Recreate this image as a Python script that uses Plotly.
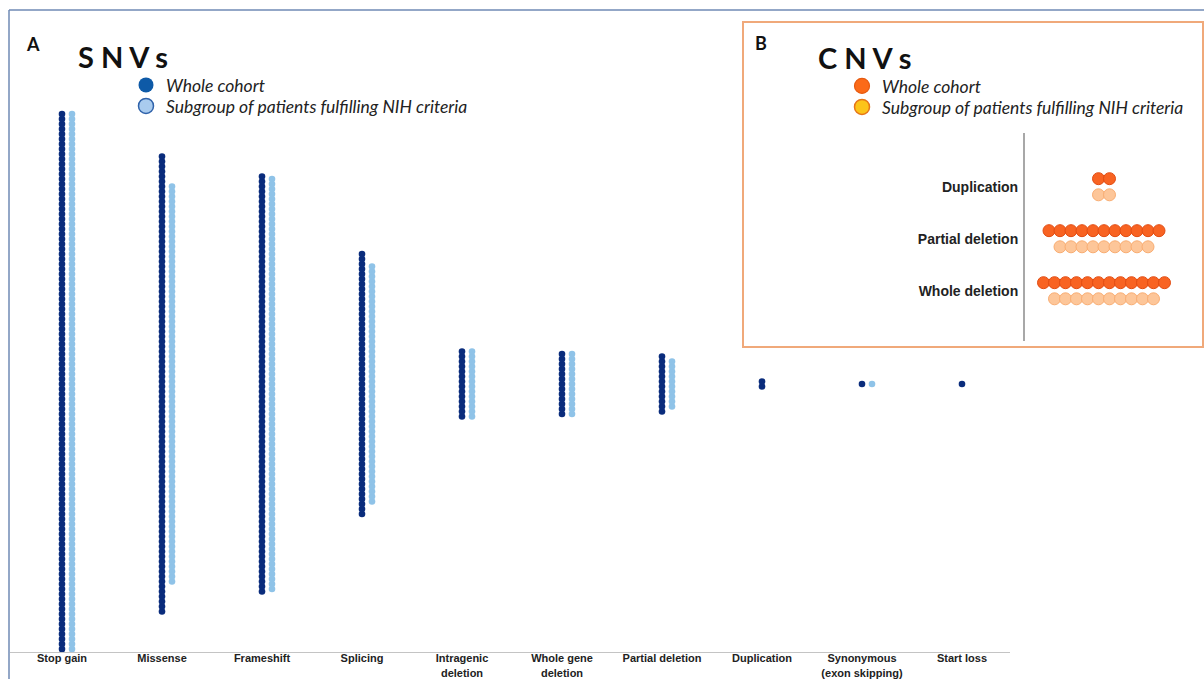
import plotly.graph_objects as go

W, H = 1204, 679

# ---------------- data ----------------
snv_categories = ["Stop gain", "Missense", "Frameshift", "Splicing", "Intragenic<br>deletion",
                  "Whole gene<br>deletion", "Partial deletion", "Duplication",
                  "Synonymous<br>(exon skipping)", "Start loss"]
snv_whole = [109, 92, 84, 53, 14, 13, 12, 2, 1, 1]
snv_nih = [109, 80, 83, 48, 14, 13, 10, 0, 1, 0]

cnv_categories = ["Duplication", "Partial deletion", "Whole deletion"]
cnv_whole = [2, 11, 12]
cnv_nih = [2, 9, 10]

series_names = ["Whole cohort", "Subgroup of patients fulfilling NIH criteria"]


def px(p):
    return p / W


def py(p):
    return 1 - p / H


# ------------- build dot coordinates (centered stacks) -------------
def vertical_stack(counts, offset):
    xs, ys = [], []
    for i, n in enumerate(counts):
        for k in range(n):
            xs.append(i + offset)
            ys.append(k - (n - 1) / 2)
    return xs, ys


def horizontal_stack(counts, offset):
    xs, ys = [], []
    for i, n in enumerate(counts):
        for k in range(n):
            xs.append(k - (n - 1) / 2)
            ys.append(i + offset)
    return xs, ys


fig = go.Figure()

NAVY = "#0a2c7c"
LIGHTBLUE = "#8fc3e8"

xw, yw = vertical_stack(snv_whole, 0.0)
xn, yn = vertical_stack(snv_nih, 0.1)
fig.add_trace(go.Scatter(x=xw, y=yw, mode="markers", xaxis="x", yaxis="y",
                         marker=dict(size=6.6, color=NAVY, line=dict(width=0)),
                         showlegend=False, name=series_names[0]))
fig.add_trace(go.Scatter(x=xn, y=yn, mode="markers", xaxis="x", yaxis="y",
                         marker=dict(size=6.6, color=LIGHTBLUE, line=dict(width=0)),
                         showlegend=False, name=series_names[1]))

# legend entries SNV (one legend per entry for exact placement)
fig.add_trace(go.Scatter(x=[None], y=[None], mode="markers", name=series_names[0],
                         marker=dict(size=15, color="#0e5aa7", line=dict(width=0)),
                         legend="legend"))
fig.add_trace(go.Scatter(x=[None], y=[None], mode="markers", name=series_names[1],
                         marker=dict(size=15, color="#a9cbee", line=dict(width=1.5, color="#2f62aa")),
                         legend="legend3"))

# CNV dots
cxw, cyw = horizontal_stack(cnv_whole, -0.16)
cxn, cyn = horizontal_stack(cnv_nih, 0.15)
fig.add_trace(go.Scatter(x=cxw, y=cyw, mode="markers", xaxis="x2", yaxis="y2",
                         marker=dict(size=12, color="#f86322", line=dict(width=1, color="#e24c12")),
                         showlegend=False, name=series_names[0]))
fig.add_trace(go.Scatter(x=cxn, y=cyn, mode="markers", xaxis="x2", yaxis="y2",
                         marker=dict(size=12, color="#fdc699", line=dict(width=1, color="#f9ad72")),
                         showlegend=False, name=series_names[1]))

fig.add_trace(go.Scatter(x=[None], y=[None], mode="markers", name=series_names[0],
                         marker=dict(size=15, color="#fb6a18", line=dict(width=1.2, color="#e65a10")),
                         legend="legend2", xaxis="x2", yaxis="y2"))
fig.add_trace(go.Scatter(x=[None], y=[None], mode="markers", name=series_names[1],
                         marker=dict(size=15, color="#fcc419", line=dict(width=1.5, color="#e67518")),
                         legend="legend4", xaxis="x2", yaxis="y2"))

# ---------------- axes ----------------
LABEL_FONT = dict(family="Liberation Sans, Arial", size=11, color="#222")

center_px = 384
unit = 5.0
fig.update_layout(
    xaxis=dict(domain=[px(10), px(1010)], range=[-0.52, 9.48],
               tickvals=list(range(len(snv_categories))),
               ticktext=["<b>%s</b>" % c for c in snv_categories],
               tickfont=LABEL_FONT, ticks="", showgrid=False, zeroline=False,
               showline=True, linecolor="#c4c4c4", linewidth=1, tickangle=0,
               ticklabelstandoff=-4, automargin=False, fixedrange=True),
    yaxis=dict(domain=[py(652), py(10)],
               range=[-(652 - center_px) / unit, (center_px - 10) / unit],
               visible=False, showgrid=False, zeroline=False, automargin=False,
               fixedrange=True),
)

# CNV panel axes
cnv_unit_x = 11.0
cnv_center = 1104
x2_left, x2_right = 1025, 1195
row_px = 52.0
y2_top, y2_bot = 133, 341
first_row_px = 187
fig.update_layout(
    xaxis2=dict(domain=[px(x2_left), px(x2_right)], anchor="y2",
                range=[-(cnv_center - x2_left) / cnv_unit_x, (x2_right - cnv_center) / cnv_unit_x],
                visible=False, showgrid=False, zeroline=False, automargin=False,
                fixedrange=True),
    yaxis2=dict(domain=[py(y2_bot), py(y2_top)], anchor="x2",
                range=[(y2_bot - first_row_px) / row_px, -(first_row_px - y2_top) / row_px],
                tickvals=list(range(len(cnv_categories))),
                ticktext=["<b>%s</b>" % c for c in cnv_categories],
                tickfont=dict(family="Liberation Sans, Arial", size=14, color="#222"),
                ticks="", showgrid=False, zeroline=False,
                showline=True, linecolor="#a8a8a8", linewidth=2,
                ticklabelstandoff=2, automargin=False, fixedrange=True),
)

# ---------------- legends ----------------
LEG_FONT = dict(family="Lato, Open Sans, sans-serif", size=17.5, color="#222", style="italic")


def leg(xp, yp):
    return dict(x=px(xp), y=py(yp), xanchor="left", yanchor="top",
                font=LEG_FONT, bgcolor="rgba(0,0,0,0)", tracegroupgap=0,
                itemclick=False, itemdoubleclick=False)


fig.update_layout(
    legend=leg(126, 67),
    legend3=leg(126, 88),
    legend2=leg(842, 68),
    legend4=leg(842, 89),
)

# ---------------- frames and titles ----------------
shapes = [
    dict(type="line", xref="paper", yref="paper", x0=px(9), x1=px(9), y0=py(10), y1=py(679),
         line=dict(color="#6f8ab5", width=1.5)),
    dict(type="line", xref="paper", yref="paper", x0=px(9), x1=px(1204), y0=py(10), y1=py(10),
         line=dict(color="#6f8ab5", width=1.5)),
    dict(type="rect", xref="paper", yref="paper", x0=px(743), x1=px(1203), y0=py(347), y1=py(22),
         line=dict(color="#f0a97a", width=2), fillcolor="white", layer="below"),
]

TITLE_FONT = "Lato, Open Sans, sans-serif"
annotations = [
    dict(text="<b>A</b>", x=px(24), y=py(44), xref="paper", yref="paper", xanchor="left",
         yanchor="middle", showarrow=False, font=dict(family=TITLE_FONT, size=18, color="#111")),
    dict(text="<b>S N V s</b>", x=px(76), y=py(56), xref="paper", yref="paper", xanchor="left",
         yanchor="middle", showarrow=False, font=dict(family=TITLE_FONT, size=29, color="#111")),
    dict(text="<b>B</b>", x=px(753), y=py(43), xref="paper", yref="paper", xanchor="left",
         yanchor="middle", showarrow=False, font=dict(family=TITLE_FONT, size=18, color="#111")),
    dict(text="<b>C N V s</b>", x=px(816), y=py(57), xref="paper", yref="paper", xanchor="left",
         yanchor="middle", showarrow=False, font=dict(family=TITLE_FONT, size=29, color="#111")),
]

fig.update_layout(
    width=W, height=H, margin=dict(l=0, r=0, t=0, b=0),
    paper_bgcolor="white", plot_bgcolor="rgba(0,0,0,0)",
    shapes=shapes, annotations=annotations, hovermode="closest",
)

fig.write_html("out.html")
